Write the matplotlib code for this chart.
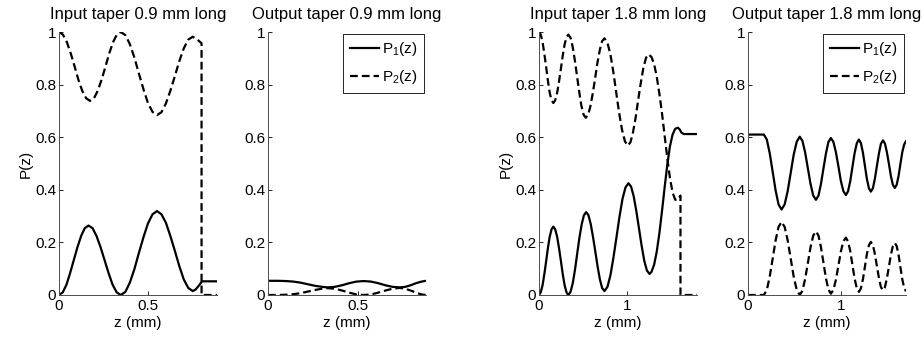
import matplotlib
matplotlib.use("Agg")
import matplotlib.pyplot as plt

plt.rcParams['font.family'] = ['Liberation Sans', 'DejaVu Sans']
plt.rcParams['font.size'] = 11
plt.rcParams['mathtext.fontset'] = 'custom'
plt.rcParams['mathtext.rm'] = 'Liberation Sans'
plt.rcParams['mathtext.it'] = 'Liberation Sans'

# ---- input taper, 0.9 mm ----
z_in09_p1 = [0, 0.021, 0.042, 0.062, 0.083, 0.104, 0.125, 0.145, 0.166,
             0.189, 0.211, 0.234, 0.257, 0.280, 0.302, 0.325, 0.348,
             0.374, 0.399, 0.425, 0.450, 0.476, 0.501, 0.527, 0.552,
             0.577, 0.602, 0.627, 0.653, 0.678, 0.703, 0.728, 0.753,
             0.770, 0.788, 0.806, 0.890]
p1_in09 = [0, 0.010, 0.039, 0.082, 0.132, 0.182, 0.225, 0.254, 0.264,
           0.254, 0.225, 0.182, 0.132, 0.082, 0.039, 0.010, 0.0,
           0.012, 0.047, 0.099, 0.160, 0.220, 0.272, 0.307, 0.319,
           0.307, 0.275, 0.225, 0.167, 0.109, 0.059, 0.027, 0.015,
           0.021, 0.036, 0.052, 0.052]
z_in09_p2 = [0, 0.022, 0.044, 0.066, 0.088, 0.109, 0.131, 0.153, 0.175,
             0.197, 0.218, 0.240, 0.262, 0.283, 0.305, 0.326, 0.348,
             0.374, 0.399, 0.425, 0.450, 0.476, 0.501, 0.527, 0.552,
             0.577, 0.602, 0.627, 0.653, 0.678, 0.703, 0.728, 0.753,
             0.778, 0.803, 0.803, 0.890]
p2_in09 = [1.0, 0.990, 0.962, 0.919, 0.869, 0.819, 0.776, 0.748, 0.738,
           0.748, 0.776, 0.819, 0.869, 0.919, 0.962, 0.990, 1.0,
           0.988, 0.954, 0.902, 0.842, 0.782, 0.730, 0.696, 0.684,
           0.695, 0.728, 0.776, 0.833, 0.890, 0.938, 0.971, 0.982,
           0.972, 0.957, 0.0, 0.0]

# ---- output taper, 0.9 mm ----
z_out09 = [0, 0.05, 0.10, 0.14, 0.18, 0.22, 0.26, 0.30, 0.33, 0.37, 0.41, 0.45,
           0.49, 0.53, 0.57, 0.61, 0.65, 0.69, 0.73, 0.76, 0.79, 0.82, 0.85, 0.875]
p1_out09 = [0.054, 0.054, 0.053, 0.051, 0.047, 0.041, 0.035, 0.031, 0.029, 0.031,
            0.037, 0.045, 0.051, 0.053, 0.051, 0.045, 0.037, 0.031, 0.029, 0.031,
            0.037, 0.045, 0.051, 0.054]
p2_out09 = [0.0, 0.0, 0.001, 0.003, 0.007, 0.013, 0.019, 0.024, 0.026, 0.024,
            0.017, 0.009, 0.002, 0.0, 0.002, 0.009, 0.017, 0.024, 0.027, 0.024,
            0.017, 0.009, 0.002, 0.0]

# ---- input taper, 1.8 mm ----
z_in18_p1 = [0, 0.020, 0.041, 0.061, 0.082, 0.102, 0.122, 0.143, 0.163,
             0.184, 0.206, 0.227, 0.249, 0.270, 0.291, 0.313, 0.334,
             0.359, 0.385, 0.410, 0.435, 0.460, 0.486, 0.511, 0.536,
             0.562, 0.588, 0.614, 0.641, 0.667, 0.693, 0.719, 0.745,
             0.779, 0.813, 0.847, 0.882, 0.916, 0.950, 0.984, 1.018,
             1.048, 1.078, 1.108, 1.138, 1.168, 1.198, 1.228, 1.258,
             1.28, 1.31, 1.34, 1.37, 1.40, 1.43, 1.46, 1.49, 1.52, 1.55, 1.58,
             1.60, 1.62, 1.646, 1.798]
p1_in18 = [0, 0.010, 0.038, 0.080, 0.130, 0.180, 0.222, 0.250, 0.260,
           0.250, 0.222, 0.180, 0.130, 0.080, 0.038, 0.010, 0.0,
           0.012, 0.046, 0.097, 0.158, 0.218, 0.269, 0.303, 0.315,
           0.304, 0.271, 0.222, 0.165, 0.108, 0.059, 0.026, 0.015,
           0.031, 0.075, 0.142, 0.220, 0.298, 0.365, 0.409, 0.425,
           0.412, 0.375, 0.318, 0.253, 0.187, 0.130, 0.093, 0.080,
           0.088, 0.115, 0.165, 0.235, 0.320, 0.410, 0.495, 0.565, 0.610, 0.632, 0.636,
           0.630, 0.618, 0.612, 0.612]
z_in18_p2 = [0, 0.020, 0.041, 0.061, 0.082, 0.102, 0.122, 0.143, 0.163,
             0.184, 0.206, 0.227, 0.249, 0.270, 0.291, 0.313, 0.334,
             0.359, 0.383, 0.408, 0.433, 0.458, 0.482, 0.507, 0.532,
             0.559, 0.585, 0.612, 0.639, 0.665, 0.692, 0.718, 0.745,
             0.778, 0.812, 0.845, 0.878, 0.911, 0.945, 0.978, 1.011,
             1.041, 1.070, 1.100, 1.129, 1.159, 1.188, 1.218, 1.247,
             1.28, 1.31, 1.34, 1.37, 1.40, 1.43, 1.46, 1.49, 1.52, 1.55, 1.58,
             1.61, 1.61, 1.798]
p2_in18 = [1.0, 0.990, 0.961, 0.917, 0.865, 0.813, 0.769, 0.740, 0.730,
           0.740, 0.768, 0.810, 0.860, 0.910, 0.952, 0.980, 0.990,
           0.978, 0.944, 0.892, 0.832, 0.772, 0.720, 0.686, 0.674,
           0.685, 0.718, 0.767, 0.825, 0.883, 0.932, 0.965, 0.976,
           0.960, 0.916, 0.850, 0.772, 0.694, 0.628, 0.584, 0.568,
           0.581, 0.619, 0.675, 0.742, 0.808, 0.864, 0.902, 0.915,
           0.905, 0.878, 0.830, 0.765, 0.690, 0.605, 0.520, 0.445, 0.390, 0.362, 0.362,
           0.378, 0.0, 0.0]

# ---- output taper, 1.8 mm ----
z_out18 = [0, 0.17, 0.202, 0.233, 0.265, 0.297, 0.328, 0.36, 0.393, 0.425,
           0.458, 0.490, 0.523, 0.555, 0.584, 0.613, 0.642, 0.671, 0.700, 0.729,
           0.756, 0.782, 0.809, 0.836, 0.862, 0.889, 0.916, 0.943, 0.970, 0.996,
           1.023, 1.05, 1.073, 1.097, 1.120, 1.143, 1.167, 1.19, 1.211, 1.233,
           1.254, 1.275, 1.297, 1.318, 1.340, 1.361, 1.383, 1.405, 1.426, 1.448,
           1.469, 1.490, 1.512, 1.533, 1.554, 1.575, 1.595, 1.615, 1.635, 1.655,
           1.675, 1.695]
p1_out18 = [0.61, 0.61, 0.591, 0.539, 0.468, 0.396, 0.344, 0.325, 0.344, 0.394,
            0.464, 0.533, 0.583, 0.602, 0.586, 0.542, 0.482, 0.422, 0.378, 0.362,
            0.378, 0.421, 0.480, 0.538, 0.581, 0.597, 0.582, 0.543, 0.489, 0.434,
            0.395, 0.380, 0.394, 0.433, 0.486, 0.538, 0.577, 0.591, 0.578, 0.541,
            0.492, 0.442, 0.406, 0.393, 0.406, 0.442, 0.491, 0.539, 0.575, 0.588,
            0.576, 0.543, 0.498, 0.452, 0.419, 0.407, 0.419, 0.452, 0.498, 0.543,
            0.572, 0.585]
p2_out18 = [0.0, 0.0, 0.019, 0.070, 0.139, 0.209, 0.259, 0.278, 0.259, 0.209,
            0.139, 0.070, 0.019, 0.0, 0.016, 0.061, 0.121, 0.182, 0.226, 0.242,
            0.226, 0.183, 0.124, 0.064, 0.021, 0.005, 0.019, 0.058, 0.112, 0.165,
            0.204, 0.218, 0.204, 0.167, 0.115, 0.064, 0.026, 0.012, 0.025, 0.060,
            0.107, 0.155, 0.189, 0.202, 0.190, 0.156, 0.110, 0.064, 0.030, 0.018,
            0.030, 0.063, 0.108, 0.153, 0.186, 0.198, 0.186, 0.153, 0.106, 0.060,
            0.028, 0.014]

titles = ['Input taper 0.9 mm long', 'Output taper 0.9 mm long',
          'Input taper 1.8 mm long', 'Output taper 1.8 mm long']
xticks = [[0, 0.5], [0, 0.5], [0, 1], [0, 1]]
xticklabels = [['0', '0.5'], ['0', '0.5'], ['0', '1'], ['0', '1']]
yticks = [0, 0.2, 0.4, 0.6, 0.8, 1]
yticklabels = ['0', '0.2', '0.4', '0.6', '0.8', '1']

panels = [
    (z_in09_p1, p1_in09, z_in09_p2, p2_in09),
    (z_out09, p1_out09, z_out09, p2_out09),
    (z_in18_p1, p1_in18, z_in18_p2, p2_in18),
    (z_out18, p1_out18, z_out18, p2_out18),
]

W, H = 924, 339
fig = plt.figure(figsize=(W / 100, H / 100), dpi=100)
lefts = [59, 268, 539, 748]
ax_w, ax_top, ax_bot = 158, 32, 295

for i, (za, pa, zb, pb) in enumerate(panels):
    ax = fig.add_axes([lefts[i] / W, (H - ax_bot) / H, ax_w / W, (ax_bot - ax_top) / H])
    ax.plot(za, pa, color='black', lw=1.6, solid_joinstyle='round', label='P$_1$(z)')
    ax.plot(zb, pb, color='black', lw=1.6, ls='--', dashes=(3.5, 1.8),
            dash_joinstyle='round', label='P$_2$(z)')
    ax.set_xlim(0, max(za[-1], zb[-1]))
    ax.set_ylim(0, 1)
    ax.set_xticks(xticks[i])
    ax.set_xticklabels(xticklabels[i])
    ax.set_yticks(yticks)
    ax.set_yticklabels(yticklabels)
    ax.tick_params(direction='in', length=3, width=0.6, pad=2)
    ax.tick_params(axis='x', pad=3)
    for s in ['top', 'right']:
        ax.spines[s].set_visible(False)
    for s in ['left', 'bottom']:
        ax.spines[s].set_linewidth(0.7)
        ax.spines[s].set_color('0.3')
    ax.set_title(titles[i], fontsize=12, pad=9)
    ax.set_xlabel('z (mm)', labelpad=2)
    if i in (0, 2):
        ax.set_ylabel('P(z)', labelpad=2)
    if i in (1, 3):
        leg = ax.legend(loc='upper right', fancybox=False, edgecolor='black',
                        framealpha=1, handlelength=1.9, handletextpad=0.2,
                        borderaxespad=0.1, borderpad=0.45, labelspacing=0.65)
        leg.get_frame().set_linewidth(0.6)

fig.savefig('out.png', dpi=100)
